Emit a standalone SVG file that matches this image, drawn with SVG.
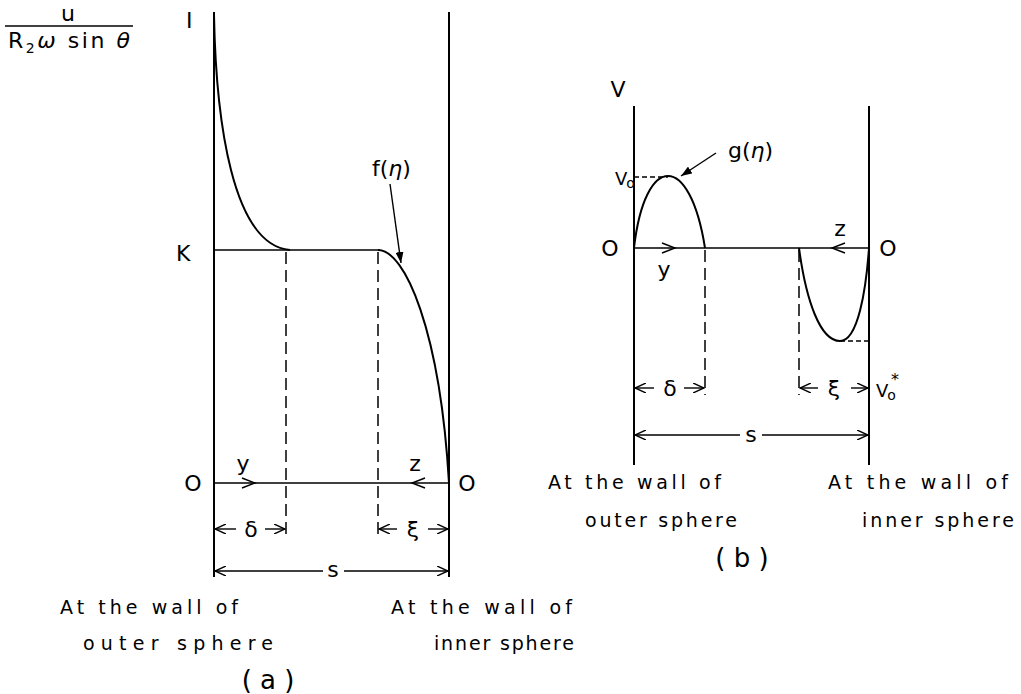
<svg xmlns="http://www.w3.org/2000/svg" width="1021" height="694" viewBox="0 0 1021 694">
<defs>
<marker id="open" viewBox="0 0 12 10" refX="11" refY="5" markerWidth="12" markerHeight="10" markerUnits="userSpaceOnUse" orient="auto">
<path d="M0,0 L11,5 L0,10" fill="none" stroke="#000" stroke-width="1.4"/>
</marker>
<marker id="solid" viewBox="0 0 12 8" refX="11" refY="4" markerWidth="12" markerHeight="8" markerUnits="userSpaceOnUse" orient="auto">
<path d="M0,0 L11,4 L0,8 Z" fill="#000"/>
</marker>
</defs>
<style>
.t{font-family:"DejaVu Sans","Liberation Sans",sans-serif;fill:#000}
.lbl{font-size:22px}
.cap{font-size:19px}
.wall{stroke:#000;stroke-width:2;fill:none}
.thin{stroke:#000;stroke-width:1.4;fill:none}
.curve{stroke:#000;stroke-width:2;fill:none}
.dash{stroke:#000;stroke-width:1.5;fill:none;stroke-dasharray:12 6}
.dim{stroke:#000;stroke-width:1.4;fill:none;marker-end:url(#open)}
</style>
<rect width="1021" height="694" fill="#fff"/>

<!-- Panel (a) -->
<g id="panel-a">
<g id="a-ylabel">
<text class="t" x="68" y="21" font-size="22" text-anchor="middle">u</text>
<line x1="5" y1="26" x2="133" y2="26" stroke="#000" stroke-width="1.5"/>
<text class="t" x="8" y="48" font-size="22" textLength="122" lengthAdjust="spacing">R<tspan font-size="14" dy="5">2</tspan><tspan dy="-5" font-style="italic">ω</tspan> sin <tspan font-style="italic">θ</tspan></text>
</g>
<text id="a-I" class="t lbl" x="186" y="28">I</text>
<text id="a-K" class="t lbl" x="176" y="261">K</text>
<text id="a-O-left" class="t lbl" x="193" y="491" text-anchor="middle">O</text>
<text id="a-O-right" class="t lbl" x="467" y="491" text-anchor="middle">O</text>
<line id="a-wall-left" class="wall" x1="214" y1="12" x2="214" y2="577"/>
<line id="a-wall-right" class="wall" x1="449" y1="12" x2="449" y2="577"/>
<line id="a-K-line" class="thin" x1="214" y1="250" x2="380" y2="250"/>
<path id="a-curve-left" class="curve" d="M214,15 C216,120 232,245 290,250"/>
<path id="a-curve-right" class="curve" d="M378,250 C405,250 440,330 449,483"/>
<g id="a-f-label">
<text class="t lbl" x="372" y="176">f(<tspan font-style="italic">η</tspan>)</text>
<line x1="390" y1="184" x2="401" y2="263" stroke="#000" stroke-width="1.4" marker-end="url(#solid)"/>
</g>
<line id="a-dash-1" class="dash" x1="286" y1="252" x2="286" y2="537"/>
<line id="a-dash-2" class="dash" x1="378" y1="252" x2="378" y2="537"/>
<g id="a-O-axis">
<line class="thin" x1="214" y1="483" x2="449" y2="483"/>
<path class="thin" d="M242,478 L255,483 L242,488"/>
<path class="thin" d="M425,478 L412,483 L425,488"/>
<text class="t lbl" x="243" y="471" text-anchor="middle">y</text>
<text class="t lbl" x="415" y="471" text-anchor="middle">z</text>
</g>
<g id="a-delta">
<line class="dim" x1="236" y1="529" x2="215" y2="529"/>
<line class="dim" x1="265" y1="529" x2="285" y2="529"/>
<text class="t lbl" x="251" y="537" text-anchor="middle">δ</text>
</g>
<g id="a-xi">
<line class="dim" x1="397" y1="529" x2="379" y2="529"/>
<line class="dim" x1="428" y1="529" x2="448" y2="529"/>
<text class="t lbl" x="413" y="537" text-anchor="middle">ξ</text>
</g>
<g id="a-s">
<line class="dim" x1="323" y1="571" x2="215" y2="571"/>
<line class="dim" x1="344" y1="571" x2="448" y2="571"/>
<text class="t lbl" x="333" y="577" text-anchor="middle">s</text>
</g>
<text id="a-cap-outer-1" class="t cap" x="60" y="614" textLength="178" lengthAdjust="spacing">At the wall of</text>
<text id="a-cap-outer-2" class="t cap" x="83" y="650" textLength="190" lengthAdjust="spacing">outer sphere</text>
<text id="a-cap-inner-1" class="t cap" x="391" y="614" textLength="181" lengthAdjust="spacing">At the wall of</text>
<text id="a-cap-inner-2" class="t cap" x="434" y="650" textLength="140" lengthAdjust="spacing">inner sphere</text>
<text id="a-title" class="t" x="268" y="689" font-size="26" text-anchor="middle">( a )</text>
</g>

<!-- Panel (b) -->
<g id="panel-b">
<text id="b-V" class="t lbl" x="618" y="97" text-anchor="middle">V</text>
<line id="b-wall-left" class="wall" x1="634" y1="106" x2="634" y2="465"/>
<line id="b-wall-right" class="wall" x1="869" y1="106" x2="869" y2="465"/>
<text id="b-v0" class="t" x="615" y="185" font-size="18">V<tspan font-size="14" dx="-1" dy="3">o</tspan></text>
<line id="b-v0-dash" class="thin" x1="634" y1="177" x2="668" y2="177" stroke-dasharray="5 3"/>
<path id="b-curve-top" class="curve" d="M634,248 C645,152 690,152 705,248"/>
<g id="b-g-label">
<text class="t lbl" x="728" y="158">g(<tspan font-style="italic">η</tspan>)</text>
<line x1="716" y1="153" x2="681" y2="176" stroke="#000" stroke-width="1.4" marker-end="url(#solid)"/>
</g>
<text id="b-O-left" class="t lbl" x="610" y="256" text-anchor="middle">O</text>
<text id="b-O-right" class="t lbl" x="888" y="256" text-anchor="middle">O</text>
<g id="b-O-axis">
<line class="thin" x1="634" y1="248" x2="869" y2="248"/>
<path class="thin" d="M662,243 L675,248 L662,253"/>
<path class="thin" d="M845,243 L832,248 L845,253"/>
<text class="t lbl" x="664" y="277" text-anchor="middle">y</text>
<text class="t lbl" x="840" y="236" text-anchor="middle">z</text>
</g>
<line id="b-dash-1" class="dash" x1="705" y1="250" x2="705" y2="395"/>
<line id="b-dash-2" class="dash" x1="799" y1="250" x2="799" y2="395"/>
<path id="b-curve-bottom" class="curve" d="M799,248 C806,300 820,341 840,341 C858,341 866,290 869,248"/>
<line id="b-v0s-dash" class="thin" x1="840" y1="341" x2="869" y2="341" stroke-dasharray="5 3"/>
<g id="b-delta">
<line class="dim" x1="654" y1="388" x2="635" y2="388"/>
<line class="dim" x1="684" y1="388" x2="704" y2="388"/>
<text class="t lbl" x="670" y="396" text-anchor="middle">δ</text>
</g>
<g id="b-xi">
<line class="dim" x1="818" y1="388" x2="800" y2="388"/>
<line class="dim" x1="851" y1="388" x2="868" y2="388"/>
<text class="t lbl" x="834" y="396" text-anchor="middle">ξ</text>
</g>
<text id="b-v0s" class="t" x="876" y="397" font-size="18">V<tspan font-size="14" dx="-1" dy="3">o</tspan><tspan font-size="16" dx="-5" dy="-15">*</tspan></text>
<g id="b-s">
<line class="dim" x1="740" y1="435" x2="635" y2="435"/>
<line class="dim" x1="762" y1="435" x2="868" y2="435"/>
<text class="t lbl" x="751" y="442" text-anchor="middle">s</text>
</g>
<text id="b-cap-outer-1" class="t cap" x="548" y="489" textLength="173" lengthAdjust="spacing">At the wall of</text>
<text id="b-cap-outer-2" class="t cap" x="585" y="527" textLength="152" lengthAdjust="spacing">outer sphere</text>
<text id="b-cap-inner-1" class="t cap" x="828" y="489" textLength="180" lengthAdjust="spacing">At the wall of</text>
<text id="b-cap-inner-2" class="t cap" x="862" y="527" textLength="152" lengthAdjust="spacing">inner sphere</text>
<text id="b-title" class="t" x="742" y="567" font-size="26" text-anchor="middle">( b )</text>
</g>
</svg>
